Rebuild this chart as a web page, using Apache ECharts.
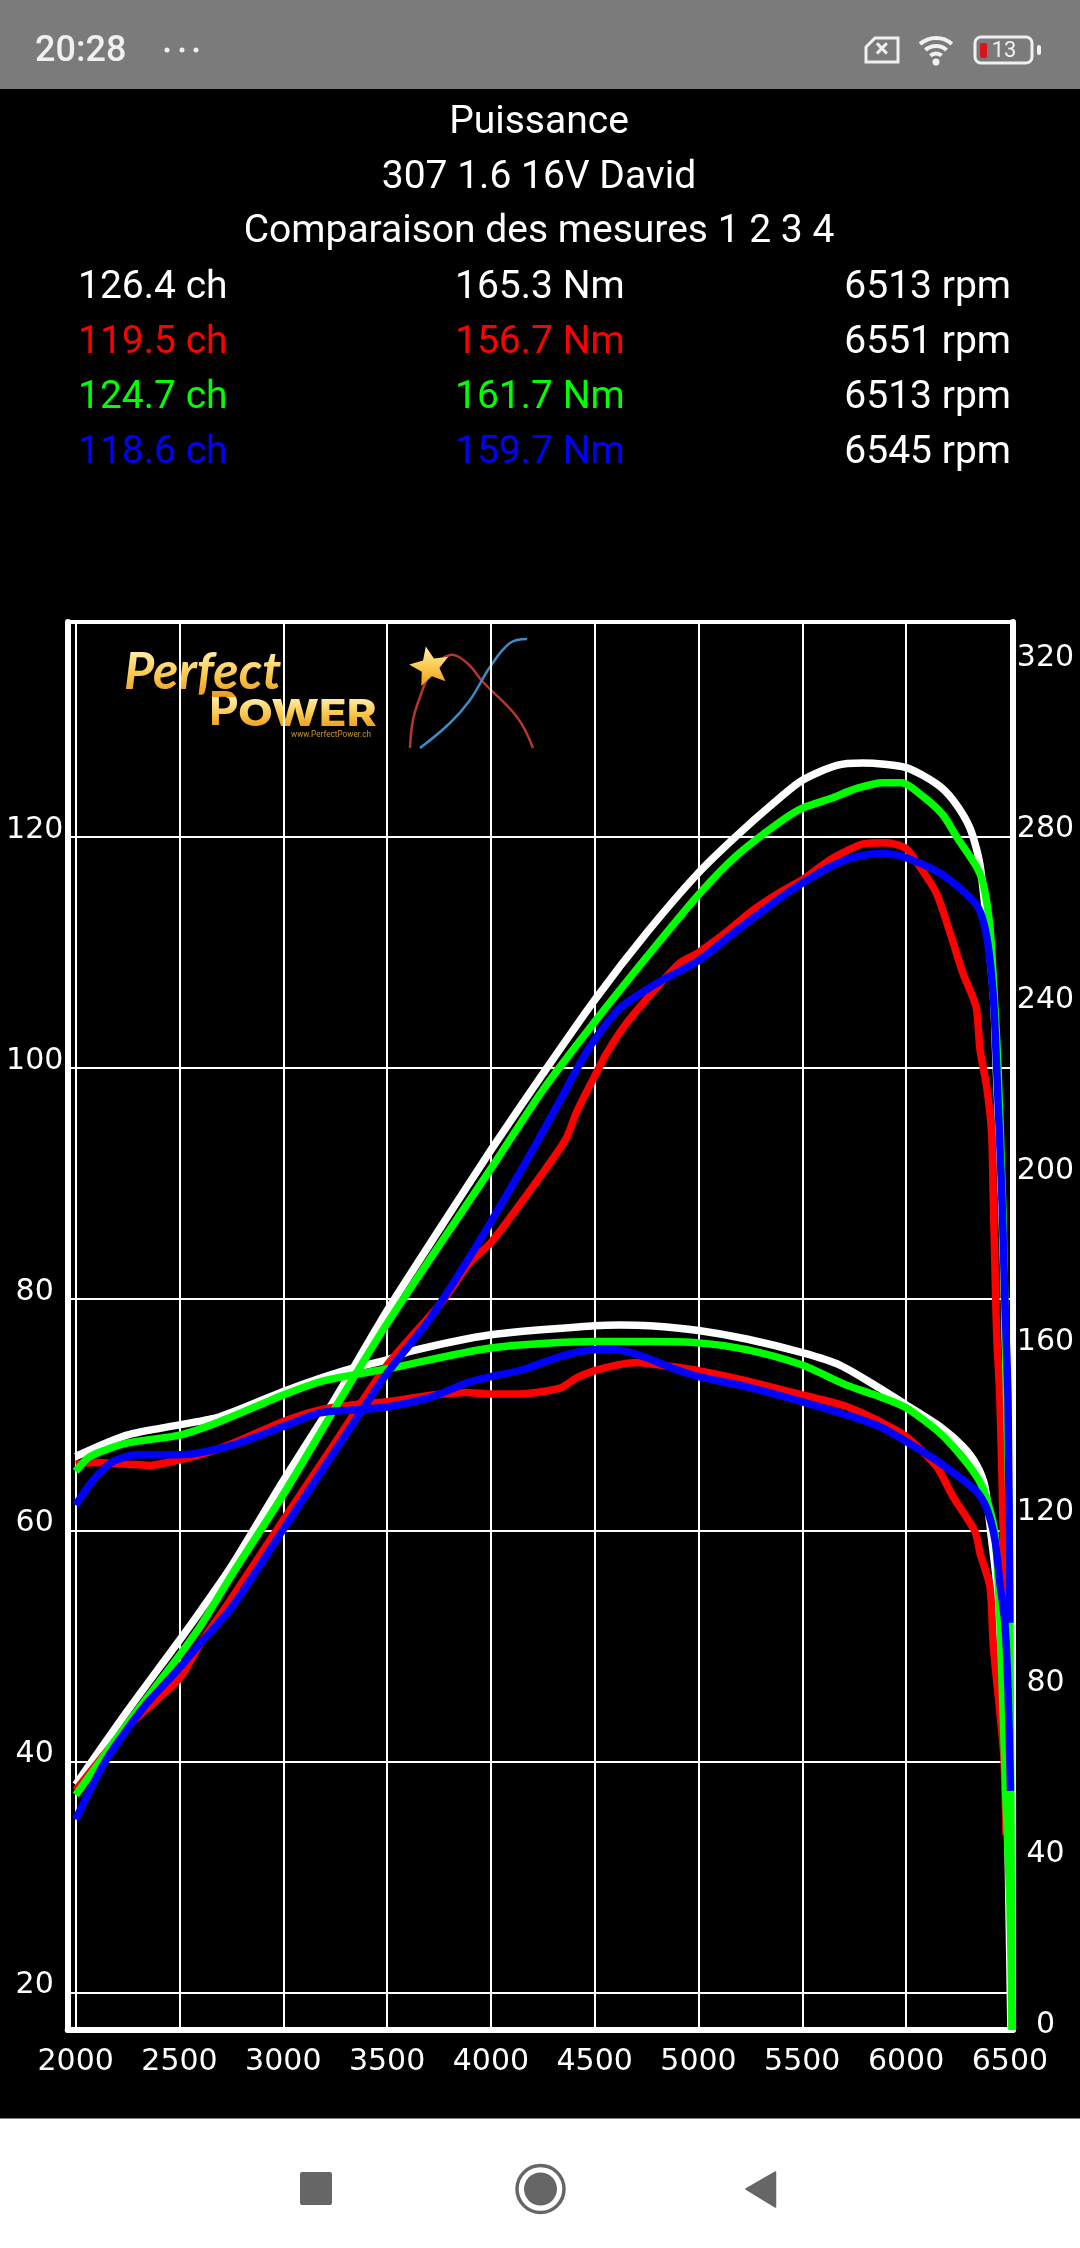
<!DOCTYPE html>
<html>
<head>
<meta charset="utf-8">
<title>Puissance</title>
<style>
  html, body { margin: 0; padding: 0; background: #000; }
  #chart { width: 1080px; height: 2248px; }
</style>
<script src="https://cdn.jsdelivr.net/npm/echarts@6/dist/echarts.min.js"></script>
</head>
<body>
<div id="chart"></div>
<script>
// rpm / ch (left axis)
var whitePower = [[2000,38],[2250,44.4],[2500,50.5],[2600,53],[2750,56.9],[3000,64.3],[3250,71.4],[3500,79],[3750,86],[4000,92.9],[4250,99.5],[4500,105.9],[4750,111.7],[5000,116.9],[5184,120.1],[5360,122.9],[5500,124.9],[5666,126.2],[5793,126.4],[6000,126],[6147,124.6],[6226,123.2],[6307,120.8],[6355,117.7],[6388,112.5],[6420,106.5],[6434,100.1],[6460,88.6],[6474,79.9],[6484,71.3],[6491,62.6],[6498,49.6],[6503,32.7],[6510,16.8]];
var redPower = [[2000,37.5],[2250,43],[2500,47.2],[2600,50.2],[2750,54.1],[3000,60.9],[3250,67.6],[3500,74.3],[3770,79.9],[3899,83.2],[4000,84.9],[4188,89.4],[4300,92.2],[4365,94],[4413,96.2],[4497,99.2],[4558,101.3],[4654,103.9],[4815,107.3],[4911,109.1],[5000,110],[5136,111.8],[5265,113.7],[5392,115.2],[5500,116.3],[5631,118],[5714,118.8],[5793,119.4],[5907,119.5],[6000,119],[6067,117.4],[6147,115.1],[6212,111.7],[6274,108.2],[6337,105.3],[6356,101.6],[6388,98.4],[6412,94.4],[6420,88.6],[6428,82.8],[6436,77.1],[6452,71.3],[6468,59.7],[6481,42.3]];
var greenPower = [[2000,37.1],[2250,43.3],[2500,49.2],[2600,51.7],[2750,56.1],[3000,63.1],[3250,70.6],[3500,77.9],[4000,91.3],[4250,98.1],[4500,104],[4750,109.6],[5000,115],[5184,118.4],[5392,121.3],[5500,122.5],[5633,123.3],[5762,124.2],[5889,124.7],[5979,124.7],[6082,123.5],[6178,121.9],[6244,120],[6340,117.4],[6371,116],[6404,112.2],[6425,106.2],[6443,100.1],[6462,90],[6468,86.8],[6484,71.3],[6495,62.6],[6500,52],[6510,16.8]];
var bluePower = [[2000,35],[2117,39.2],[2189,41.3],[2342,45],[2500,48.1],[2599,50.2],[2750,53.3],[3000,60.1],[3250,66.9],[3500,73.6],[3706,78.3],[3899,83.7],[4000,86.7],[4188,92.5],[4333,97.2],[4429,100.4],[4497,102.4],[4622,105.2],[4815,107.5],[5000,109.3],[5184,111.9],[5392,114.7],[5500,116],[5631,117.4],[5762,118.3],[5889,118.6],[6000,118.2],[6178,116.7],[6340,114.1],[6388,111.4],[6420,106.2],[6436,100.1],[6462,88.6],[6476,79.9],[6491,71.3],[6500,52]];

// rpm / Nm (right axis)
var whiteTorque = [[2000,134.3],[2246,139.3],[2500,141.7],[2695,143.6],[3000,149.5],[3177,152.6],[3336,155],[3500,156.9],[3610,158.9],[4000,162.8],[4500,164.9],[4620,165.1],[4766,164.9],[5000,163.8],[5232,161.8],[5500,158.6],[5681,155.7],[5873,150.3],[6000,146.4],[6163,141.3],[6274,136.6],[6340,132.3],[6380,127.2],[6412,114.8],[6436,104.7],[6461,84.8],[6485,63.9],[6491,43.1],[6505,0]];
var redTorque = [[2000,132.5],[2084,132.9],[2246,132.5],[2357,132.2],[2500,133.5],[2599,134.7],[2758,137.4],[3000,142.5],[3177,145.2],[3336,146.4],[3500,147.1],[3720,148.7],[3881,149.3],[4000,148.9],[4122,148.9],[4333,150.3],[4413,152.7],[4500,154.4],[4605,155.7],[4702,156.3],[4814,155.7],[5000,154.4],[5232,152],[5500,148.7],[5713,146],[5873,142.5],[6000,139],[6147,131.9],[6226,124.9],[6332,116.7],[6356,111.7],[6404,103.8],[6420,90],[6452,74.4],[6471,63.9],[6481,45.7]];
var greenTorque = [[2000,130.8],[2069,134.3],[2246,137.4],[2500,139.3],[2695,142.5],[3000,148.7],[3177,151.8],[3336,153.4],[3500,154.8],[4000,159.7],[4500,161.2],[4766,161.2],[5000,160.9],[5232,159.3],[5500,155.7],[5713,151],[5873,148.3],[6000,145.7],[6163,139.8],[6274,133.9],[6355,128.4],[6394,123.4],[6428,116.4],[6452,96],[6481,53.9],[6500,30],[6512,0]];
var blueTorque = [[2000,122.9],[2085,128.8],[2180,133.1],[2294,134.7],[2500,134.7],[2599,135.2],[2758,137],[3000,141.3],[3177,144.5],[3336,145.2],[3500,145.9],[3720,148.3],[3881,151.5],[4000,153],[4153,154.6],[4333,157.7],[4500,159.3],[4605,159.3],[4732,157.7],[4895,154.6],[5000,153],[5232,150.6],[5500,147.1],[5713,144],[5873,141.3],[6000,137.8],[6163,132.8],[6340,126.1],[6388,122.2],[6428,114.8],[6452,104.7],[6476,95.3],[6491,79.6],[6503,56]];

var rpmTicks = [2000, 2500, 3000, 3500, 4000, 4500, 5000, 5500, 6000, 6500];
var powerTicks = [20, 40, 60, 80, 100, 120];
var torqueTicks = [0, 40, 80, 120, 160, 200, 240, 280, 320];

var headings = ['Puissance', '307 1.6 16V David', 'Comparaison des mesures 1 2 3 4'];
var runColors = ['#ffffff', '#ff0000', '#00ff00', '#0000ff'];
var peakPower = ['126.4 ch', '119.5 ch', '124.7 ch', '118.6 ch'];
var peakTorque = ['165.3 Nm', '156.7 Nm', '161.7 Nm', '159.7 Nm'];
var peakRpm = ['6513 rpm', '6551 rpm', '6513 rpm', '6545 rpm'];

var uiFont = 'Roboto';
var axisFont = 'DejaVu Sans';

var chart = echarts.init(document.getElementById('chart'), null, { renderer: 'canvas' });

var titles = headings.map(function (t, i) {
  return {
    text: t, left: 539, top: 104 + i * 54.6, textAlign: 'center', padding: 0,
    textStyle: { color: '#fff', fontFamily: uiFont, fontSize: 39, fontWeight: 'normal' }
  };
});

var goldFill = new echarts.graphic.LinearGradient(0, 0, 0, 1, [
  { offset: 0, color: '#fff0b0' },
  { offset: 0.55, color: '#f9c74a' },
  { offset: 1, color: '#ee9a1a' }
]);

function starPoints(cx, cy, r) {
  var pts = [];
  for (var i = 0; i < 10; i++) {
    var rad = i % 2 ? r * 0.45 : r;
    var a = -Math.PI / 2 - 0.2 + i * Math.PI / 5;
    pts.push([cx + rad * Math.cos(a), cy + rad * Math.sin(a)]);
  }
  return pts;
}

function rowText(list, x, align, useColor) {
  return list.map(function (t, i) {
    return {
      type: 'text', x: x, y: 288 + i * 55, z: 10,
      style: { text: t, fill: useColor ? runColors[i] : '#fff', font: '39px ' + uiFont, textAlign: align, textVerticalAlign: 'middle' }
    };
  });
}

var graphics = [
  // status bar
  { type: 'rect', z: 1, shape: { x: 0, y: 0, width: 1080, height: 89 }, style: { fill: '#7b7b7b' } },
  { type: 'text', x: 35, y: 52, z: 10, style: { text: '20:28', fill: '#f0f0f0', font: '500 36px ' + uiFont, textVerticalAlign: 'middle' } },
  { type: 'circle', z: 10, shape: { cx: 167, cy: 50, r: 2.5 }, style: { fill: '#f0f0f0' } },
  { type: 'circle', z: 10, shape: { cx: 182, cy: 50, r: 2.5 }, style: { fill: '#f0f0f0' } },
  { type: 'circle', z: 10, shape: { cx: 196, cy: 50, r: 2.5 }, style: { fill: '#f0f0f0' } },
  // sim icon
  { type: 'polygon', z: 10, shape: { points: [[875, 38], [898, 38], [898, 62], [866, 62], [866, 47]] }, style: { fill: 'none', stroke: '#f0f0f0', lineWidth: 3 } },
  { type: 'text', x: 882, y: 50, z: 10, style: { text: '×', fill: '#f0f0f0', font: '700 26px ' + uiFont, textAlign: 'center', textVerticalAlign: 'middle' } },
  // wifi icon
  { type: 'arc', z: 10, shape: { cx: 936, cy: 62, r: 24, startAngle: -2.3, endAngle: -0.85 }, style: { stroke: '#f0f0f0', fill: 'none', lineWidth: 4 } },
  { type: 'arc', z: 10, shape: { cx: 936, cy: 62, r: 16, startAngle: -2.3, endAngle: -0.85 }, style: { stroke: '#f0f0f0', fill: 'none', lineWidth: 4 } },
  { type: 'arc', z: 10, shape: { cx: 936, cy: 62, r: 8.5, startAngle: -2.3, endAngle: -0.85 }, style: { stroke: '#f0f0f0', fill: 'none', lineWidth: 4 } },
  { type: 'circle', z: 10, shape: { cx: 936, cy: 62, r: 3.5 }, style: { fill: '#f0f0f0' } },
  // battery icon
  { type: 'rect', z: 10, shape: { x: 975, y: 37, width: 57, height: 26, r: 6 }, style: { fill: 'none', stroke: '#f0f0f0', lineWidth: 3 } },
  { type: 'rect', z: 10, shape: { x: 1037, y: 45, width: 4, height: 10, r: 2 }, style: { fill: '#f0f0f0' } },
  { type: 'rect', z: 10, shape: { x: 980, y: 43, width: 7, height: 15, r: 2 }, style: { fill: '#d9141a' } },
  { type: 'text', x: 1004, y: 51, z: 10, style: { text: '13', fill: '#f0f0f0', font: '22px ' + uiFont, textAlign: 'center', textVerticalAlign: 'middle' } },
  // navigation bar
  { type: 'rect', z: 1, shape: { x: 0, y: 2118.5, width: 1080, height: 130 }, style: { fill: '#ffffff' } },
  { type: 'rect', z: 10, shape: { x: 300, y: 2172, width: 32, height: 33, r: 2 }, style: { fill: '#666666' } },
  { type: 'circle', z: 10, shape: { cx: 540.5, cy: 2189, r: 23.5 }, style: { fill: 'none', stroke: '#666666', lineWidth: 3.5 } },
  { type: 'circle', z: 10, shape: { cx: 540.5, cy: 2189, r: 16.5 }, style: { fill: '#666666' } },
  { type: 'polygon', z: 10, shape: { points: [[746, 2189], [775.5, 2172], [775.5, 2207]] }, style: { fill: '#666666', stroke: '#666666', lineWidth: 1.5, lineJoin: 'round' } },
  // logo: white text, tinted gold by a multiply rect (text ignores gradients), grid lines stay above
  { type: 'text', x: 124, y: 646, z: 0, style: { text: 'Perfect', fill: '#fff', font: 'italic 700 52px Lato', textVerticalAlign: 'top' } },
  { type: 'text', x: 209, y: 688, z: 0, style: { text: 'P', fill: '#fff', font: '700 46px Inter', textVerticalAlign: 'top' } },
  { type: 'text', x: 238, y: 696, z: 0, scaleX: 1.22, style: { text: 'OWER', fill: '#fff', font: '800 37px Inter', textVerticalAlign: 'top' } },
  { type: 'rect', z: 0.5, shape: { x: 118, y: 650, width: 170, height: 47 }, style: { fill: goldFill, blend: 'multiply' } },
  { type: 'rect', z: 0.5, shape: { x: 200, y: 697, width: 185, height: 31 }, style: { fill: goldFill, blend: 'multiply' } },
  { type: 'text', x: 291, y: 735, z: 0.6, style: { text: 'www.PerfectPower.ch', fill: '#c9962f', font: '8.2px ' + uiFont, textVerticalAlign: 'middle' } },
  { type: 'polyline', z: 0.6, shape: { smooth: 0.4, points: [[410, 748], [413, 720], [420, 697], [432, 670], [450, 655], [467, 663], [483, 682], [517, 717], [533, 748]] }, style: { fill: 'none', stroke: '#b5352f', lineWidth: 2.5 } },
  { type: 'polyline', z: 0.6, shape: { smooth: 0.4, points: [[420, 748], [450, 723], [470, 700], [490, 667], [510, 643], [527, 639]] }, style: { fill: 'none', stroke: '#3a8cc8', lineWidth: 2.5 } },
  { type: 'polygon', z: 0.7, shape: { points: starPoints(430, 667, 21) }, style: { fill: goldFill } }
].concat(rowText(peakPower, 78, 'left', true), rowText(peakTorque, 455, 'left', true), rowText(peakRpm, 1011, 'right', false));

function lineSeries(name, data, color, axisIndex) {
  return {
    name: name, type: 'line', data: data, yAxisIndex: axisIndex,
    showSymbol: false, smooth: 0.25, clip: false,
    lineStyle: { color: color, width: 7.5, cap: 'butt' }, z: 3
  };
}

var axisLabelStyle = { color: '#fff', fontFamily: axisFont, fontSize: 30 };

// axis min is not a multiple of the tick step, so the grid lines go on a markLine
var gridLines = {
  name: 'grille', type: 'line', data: [], z: 1, silent: true,
  markLine: {
    z: 1, silent: true, symbol: 'none', animation: false, label: { show: false },
    lineStyle: { color: '#fff', width: 2, type: 'solid' },
    data: rpmTicks.slice(0, -1).map(function (v) { return { xAxis: v }; })
      .concat(powerTicks.map(function (v) { return { yAxis: v }; }))
  }
};

// the labels sit above their grid line: an empty 2nd line lifts the first one
function liftedLabel(v) { return v + '\n'; }

chart.setOption({
  animation: false,
  backgroundColor: '#000',
  title: titles,
  graphic: { elements: graphics },
  grid: { left: 67.7, right: 67.5, top: 622, bottom: 218, containLabel: false, outerBoundsMode: 'none' },
  xAxis: [{
    type: 'value', min: 1961.5, max: 6512.6,
    axisLine: { lineStyle: { color: '#fff', width: 6 } },
    axisTick: { show: false },
    axisLabel: Object.assign({}, axisLabelStyle, { margin: 17, customValues: rpmTicks, formatter: function (v) { return String(v); } }),
    splitLine: { show: false }
  }, {
    type: 'value', position: 'top', min: 1961.5, max: 6512.6,
    axisLine: { show: true, onZero: false, lineStyle: { color: '#fff', width: 4 } },
    axisTick: { show: false }, axisLabel: { show: false }, splitLine: { show: false }
  }],
  yAxis: [{
    type: 'value', min: 16.77, max: 138.6, position: 'left',
    axisLine: { show: true, onZero: false, lineStyle: { color: '#fff', width: 6 } },
    axisTick: { show: false },
    axisLabel: Object.assign({}, axisLabelStyle, { margin: 33, align: 'center', verticalAlign: 'middle', lineHeight: 14, customValues: powerTicks, formatter: liftedLabel }),
    splitLine: { show: false }
  }, {
    type: 'value', min: 0, max: 329.7, position: 'right',
    axisLine: { show: true, onZero: false, lineStyle: { color: '#fff', width: 6 } },
    axisTick: { show: false },
    axisLabel: Object.assign({}, axisLabelStyle, { margin: 33, align: 'center', verticalAlign: 'middle', lineHeight: 10, customValues: torqueTicks, formatter: liftedLabel }),
    splitLine: { show: false }
  }],
  series: [
    gridLines,
    lineSeries('Puissance 1', whitePower, runColors[0], 0),
    lineSeries('Couple 1', whiteTorque, runColors[0], 1),
    lineSeries('Puissance 2', redPower, runColors[1], 0),
    lineSeries('Couple 2', redTorque, runColors[1], 1),
    lineSeries('Puissance 3', greenPower, runColors[2], 0),
    lineSeries('Couple 3', greenTorque, runColors[2], 1),
    lineSeries('Puissance 4', bluePower, runColors[3], 0),
    lineSeries('Couple 4', blueTorque, runColors[3], 1)
  ]
});
</script>
</body>
</html>
